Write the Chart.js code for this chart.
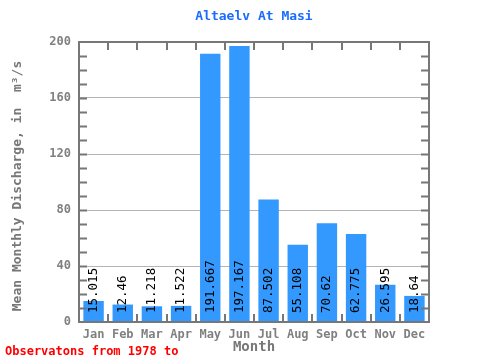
<!DOCTYPE html>
<html>
<head>
<meta charset="utf-8">
<script src="https://cdn.jsdelivr.net/npm/chart.js@4"></script>
<style>
  html, body { margin: 0; padding: 0; background: #fff; }
  #box { width: 480px; height: 360px; }
</style>
</head>
<body>
<div id="box"><canvas id="prietokChart" width="480" height="360"></canvas></div>
<script>
const mesiace = ["Jan", "Feb", "Mar", "Apr", "May", "Jun", "Jul", "Aug", "Sep", "Oct", "Nov", "Dec"];
const prietok = [15.015, 12.46, 11.218, 11.522, 191.667, 197.167, 87.502, 55.108, 70.62, 62.775, 26.595, 18.64];
const popisky = ["15.015", "12.46", "11.218", "11.522", "191.667", "197.167", "87.502", "55.108", "70.62", "62.775", "26.595", "18.64"];
const yZnacky = [0, 40, 80, 120, 160, 200];

const pismo = "'DejaVu Sans Mono', 'Liberation Mono', monospace";
const sedaOs = "#777777";

// ramik, ciarky a texty okolo grafu
const ramPlugin = {
    id: "ram",
    afterDatasetsDraw(chart) {
        let ctx = chart.ctx;
        let a = chart.chartArea;
        let x = chart.scales.x;
        let y = chart.scales.y;

        // hodnoty v stlpcoch
        let meta = chart.getDatasetMeta(0);
        ctx.save();
        ctx.fillStyle = "#000";
        ctx.font = "12.5px " + pismo;
        ctx.textAlign = "left";
        ctx.textBaseline = "middle";
        meta.data.forEach((bar, i) => {
            ctx.save();
            ctx.translate(bar.x, a.bottom - 9);
            ctx.rotate(-Math.PI / 2);
            ctx.fillText(popisky[i], 0, 0);
            ctx.restore();
        });
        ctx.restore();

        ctx.save();
        ctx.strokeStyle = sedaOs;
        ctx.lineWidth = 2;
        ctx.strokeRect(a.left, a.top, a.right - a.left, a.bottom - a.top);

        // male ciarky na y osi
        for (let v = 10; v < 200; v += 10) {
            let py = Math.round(y.getPixelForValue(v)) + 0.5;
            ctx.beginPath();
            ctx.moveTo(a.left, py); ctx.lineTo(a.left + 8, py);
            ctx.moveTo(a.right, py); ctx.lineTo(a.right - 8, py);
            ctx.stroke();
        }
        // ciarky medzi mesiacmi
        let sirka = (a.right - a.left) / mesiace.length;
        for (let i = 1; i < mesiace.length; i++) {
            let px = Math.round(x.getPixelForValue(i) - sirka / 2);
            ctx.beginPath();
            ctx.moveTo(px, a.top); ctx.lineTo(px, a.top + 8);
            ctx.moveTo(px, a.bottom); ctx.lineTo(px, a.bottom - 8);
            ctx.stroke();
        }
        ctx.restore();
    },
    afterDraw(chart) {
        let ctx = chart.ctx;
        let a = chart.chartArea;
        ctx.save();
        ctx.textAlign = "center";
        ctx.textBaseline = "middle";
        ctx.fillStyle = "#1a6cff";
        ctx.font = "bold 13px " + pismo;
        ctx.fillText("Altaelv At Masi", (a.left + a.right) / 2, 17);

        ctx.fillStyle = sedaOs;
        ctx.font = "bold 14px " + pismo;
        ctx.fillText("Month", (a.left + a.right) / 2, 347);

        ctx.save();
        ctx.translate(18, (a.top + a.bottom) / 2 + 4);
        ctx.rotate(-Math.PI / 2);
        ctx.font = "bold 13px " + pismo;
        ctx.fillText("Mean Monthly Discharge, in  m\u00b3/s", 0, 0);
        ctx.restore();

        ctx.fillStyle = "#ff0000";
        ctx.textAlign = "left";
        ctx.font = "bold 12px " + pismo;
        ctx.fillText("Observatons from 1978 to", 5, 352);
        ctx.restore();
    }
};

new Chart(document.getElementById("prietokChart").getContext("2d"), {
    type: "bar",
    data: {
        labels: mesiace,
        datasets: [{
            data: prietok,
            backgroundColor: "#3399ff",
            borderWidth: 0,
            barPercentage: 0.7,
            categoryPercentage: 1.0
        }]
    },
    options: {
        responsive: false,
        animation: false,
        devicePixelRatio: 1,
        layout: { padding: { left: 0, right: 51, top: 42, bottom: 0 } },
        plugins: {
            legend: { display: false },
            title: { display: false },
            tooltip: { enabled: false }
        },
        scales: {
            x: {
                afterFit(s) { s.height = 38; },
                grid: { display: false, drawTicks: false },
                border: { display: false },
                ticks: {
                    color: "#808080",
                    font: { family: pismo, size: 12, weight: "bold" },
                    padding: 6,
                    maxRotation: 0
                }
            },
            y: {
                min: 0,
                max: 200,
                afterFit(s) { s.width = 79; },
                afterBuildTicks(s) { s.ticks = yZnacky.map(v => ({ value: v })); },
                grid: {
                    color: ctx => (ctx.tick && (ctx.tick.value === 0 || ctx.tick.value === 200)) ? "rgba(0,0,0,0)" : "#b4b4b4",
                    lineWidth: 1,
                    drawTicks: false
                },
                border: { display: false },
                ticks: {
                    color: "#808080",
                    font: { family: pismo, size: 12, weight: "bold" },
                    padding: 8
                }
            }
        }
    },
    plugins: [ramPlugin]
});
</script>
</body>
</html>
